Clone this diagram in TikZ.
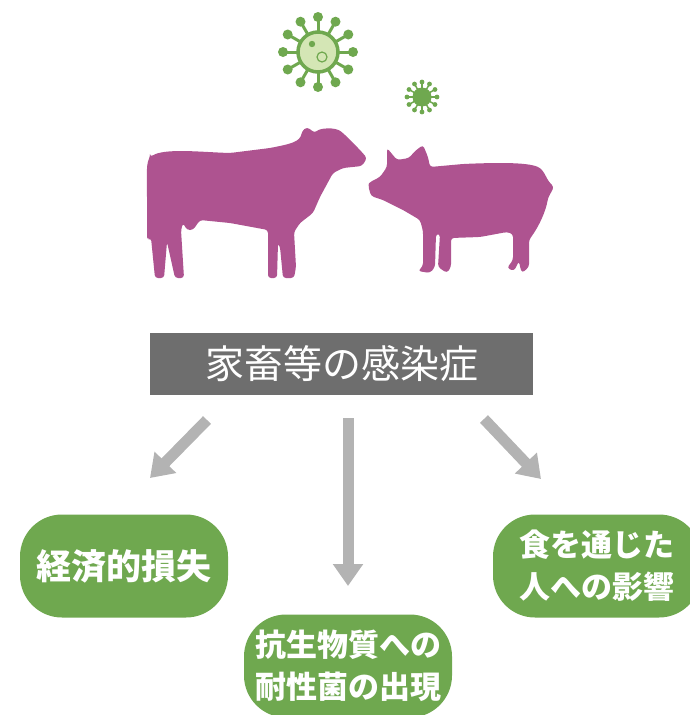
\documentclass[tikz,border=0pt]{standalone}
\usepackage{fontspec}
\usepackage{xcolor}
\usepackage{tikz}
\usetikzlibrary{positioning, arrows.meta}
\setmainfont{Noto Sans CJK JP}

\definecolor{leaf}{HTML}{6FA84F}
\definecolor{paleleaf}{HTML}{D4E6B5}
\definecolor{livestock}{HTML}{AE5390}
\definecolor{headgray}{HTML}{6E6E6E}
\definecolor{arrowgray}{HTML}{B3B3B3}

\begin{document}
\begin{tikzpicture}[x=1pt, y=-1pt,
        effect/.style={fill=leaf, text=white, rounded corners=42pt,
            minimum width=208pt, minimum height=103pt, align=center,
            font=\fontsize{31}{42}\selectfont\bfseries},
        spread/.style={draw=arrowgray, line width=11pt,
            -{Triangle[width=29pt, length=22pt]}}
    ]
    \useasboundingbox (0,0) rectangle (689,715);

    % large virus
    \foreach \a in {0,30,...,330} {
        \draw[leaf, line width=3pt] (318,52) -- ++(\a:33);
        \fill[leaf] (318,52) ++(\a:35) circle (5);
    }
    \draw[leaf, line width=3.5pt, fill=paleleaf] (318,52) circle (20);
    \fill[leaf] (312,44) circle (3.2);
    \draw[leaf, line width=1.2pt] (322,57) circle (5);

    % small virus
    \foreach \a in {0,30,...,330} {
        \draw[leaf, line width=1.5pt] (422,97) -- ++(\a:14);
        \fill[leaf] (422,97) ++(\a:15) circle (2.4);
    }
    \fill[leaf] (422,97) circle (9.5);

    % cow
    \fill[livestock, rounded corners=3pt]
        (150,157) .. controls (165,148) and (200,152) .. (230,153)
        -- (270,148) .. controls (290,144) and (300,142) .. (302,131)
        -- (307,127) -- (315,133) .. controls (320,128) and (335,127) .. (343,133)
        -- (360,150) -- (367,158) -- (362,166) -- (343,168) -- (333,173)
        -- (320,197) -- (313,213) -- (300,223) -- (294,232)
        -- (296,267) -- (294,278) -- (283,278) -- (280,247) -- (278,243)
        -- (277,278) -- (268,278) -- (268,230)
        -- (230,223) -- (200,220) -- (193,230) -- (187,230) -- (183,223)
        -- (181,230) -- (184,278) -- (175,278) -- (167,242)
        -- (164,278) -- (155,278) -- (151,238) -- (147,240)
        -- (147,200) .. controls (147,180) and (146,165) .. cycle;

    % pig
    \fill[livestock, rounded corners=3pt]
        (368,185) -- (371,196) -- (383,200) -- (403,210) -- (420,220)
        -- (423,231) -- (423,266) -- (418,271) -- (430,273) -- (435,267)
        -- (436,234) -- (440,234) -- (438,267) -- (447,273) -- (451,267)
        -- (451,238) -- (480,237) -- (507,232) -- (513,234)
        -- (513,260) -- (507,268) -- (514,271) -- (519,261) -- (520,267)
        -- (522,273) -- (529,267) -- (529,240)
        .. controls (540,225) and (546,210) .. (548,198)
        -- (554,187) -- (549,182) -- (543,171)
        .. controls (535,163) and (510,162) .. (463,164)
        -- (430,167) -- (428,157) -- (423,145) -- (415,151) -- (409,158)
        -- (397,160) -- (387,148) -- (387,167) -- (380,177) -- (370,182) -- cycle;

    % heading
    \node[fill=headgray, text=white, minimum width=383pt, minimum height=62pt,
        font=\fontsize{39}{44}\selectfont] (disease) at (341.5,364) {家畜等の感染症};

    % effects
    \node[effect, font=\fontsize{35}{42}\selectfont\bfseries] (loss) at (124,566) {経済的損失};
    \node[effect] (amr) at (348,666) {抗生物質への\\耐性菌の出現};
    \node[effect] (food) at (597,566) {食を通じた\\人への影響};

    \coordinate (lstart) at (207,420);
    \coordinate (mstart) at (348,418);
    \coordinate (rstart) at (484,419);
    \draw[spread] (lstart) -- (150,478);
    \draw[spread] (mstart) -- (348,586);
    \draw[spread] (rstart) -- (541,479);
\end{tikzpicture}
\end{document}
